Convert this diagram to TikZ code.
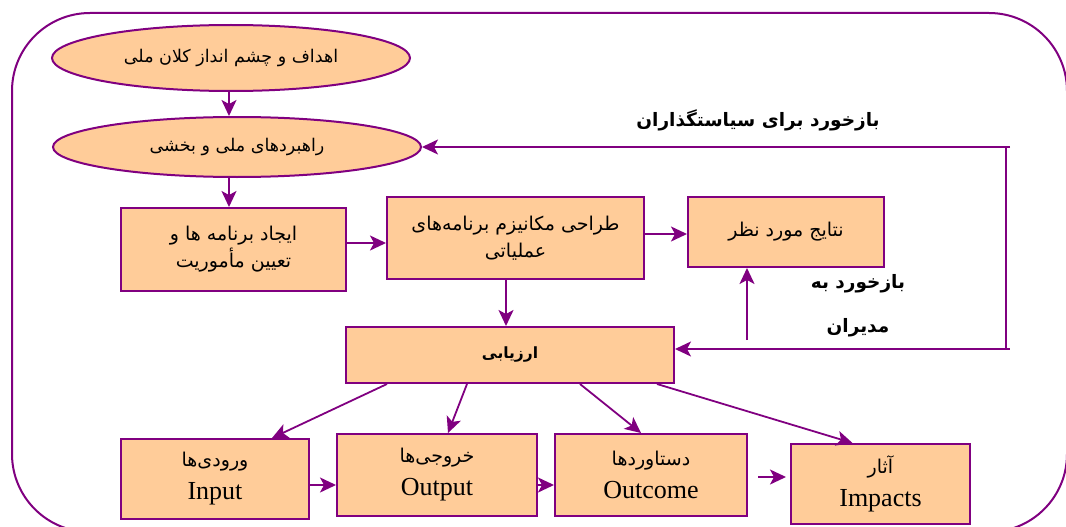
\documentclass[tikz,border=0pt]{standalone}
\usepackage{fontspec}
\setmainfont{Liberation Serif}
\newfontfamily\farsi[Script=Arabic]{DejaVu Sans}
\TeXXeTstate=1
\usetikzlibrary{shapes.geometric,arrows.meta}
\definecolor{mauve}{HTML}{800080}
\definecolor{peach}{HTML}{FFCC99}
\newcommand{\fatext}[1]{{\farsi\beginR #1\endR}}
\newcommand{\entext}[1]{{\rmfamily\fontsize{26}{28}\selectfont #1}}

\begin{document}
\begin{tikzpicture}[x=1pt,y=-1pt,
    every node/.style={font=\farsi\fontsize{19}{27}\selectfont},
    ellip/.style={ellipse, draw=mauve, fill=peach, line width=2pt, inner sep=0pt, font=\farsi\fontsize{17.5}{21}\selectfont},
    block/.style={rectangle, draw=mauve, fill=peach, line width=2pt, inner sep=0pt, align=center},
    link/.style={draw=mauve, line width=1.8pt, -{Stealth[length=16pt,width=15pt,inset=4pt]}},
    wire/.style={draw=mauve, line width=1.8pt},
    label/.style={font=\farsi\bfseries\fontsize{18.5}{22}\selectfont, align=center}]
    \useasboundingbox (0,0) rectangle (1066,527);
    \clip (0,0) rectangle (1066,527);
    \draw[mauve, line width=2pt, rounded corners=78pt] (12,13) rectangle (1067,532);

    % top: goals and strategies
    \node[ellip, minimum width=358pt, minimum height=66pt] (goals) at (231,58) {\fatext{اهداف و چشم انداز کلان ملی}};
    \node[ellip, minimum width=368pt, minimum height=60pt] (strat) at (237,147) {\fatext{راهبردهای ملی و بخشی}};

    % middle row
    \node[block, minimum width=225pt, minimum height=83pt] (create) at (233.5,249.5) {\fatext{ایجاد برنامه ها و}\\\fatext{تعیین مأموریت}};
    \node[block, minimum width=257pt, minimum height=82pt] (design) at (515.5,238) {\fatext{طراحی مکانیزم برنامه‌های}\\\fatext{عملیاتی}};
    \node[block, minimum width=196pt, minimum height=70pt] (result) at (786,232) {\fatext{نتایج مورد نظر}};
    \node[block, minimum width=328pt, minimum height=56pt, font=\farsi\bfseries\fontsize{15.5}{18}\selectfont] (eval) at (510,355) {\fatext{ارزیابی}};

    % bottom row
    \node[block, minimum width=188pt, minimum height=80pt] (input) at (215,479) {\fatext{ورودی‌ها}\\[6pt]\entext{Input}};
    \node[block, minimum width=200pt, minimum height=82pt] (output) at (437,475) {\fatext{خروجی‌ها}\\[6pt]\entext{Output}};
    \node[block, minimum width=192pt, minimum height=82pt] (outcome) at (651,475) {\fatext{دستاوردها}\\[6pt]\entext{Outcome}};
    \node[block, minimum width=179pt, minimum height=80pt] (impact) at (880.5,484) {\fatext{آثار}\\[6pt]\entext{Impacts}};

    % feedback labels
    \node[label] (fbPolicy) at (758,120) {\fatext{بازخورد برای سیاستگذاران}};
    \node[label] (fbManager) at (858,306) {\fatext{بازخورد به}\\[22pt]\fatext{مدیران}};

    \coordinate (col) at (229,0);
    \coordinate (fbTop) at (1006,147);
    \coordinate (fbBot) at (1006,349);
    \coordinate (mgr) at (747,340);
    \coordinate (gapL) at (758,477);
    \coordinate (gapR) at (786,477);

    \draw[link] (goals.south -| col) -- (strat.north -| col);
    \draw[link] (strat.south -| col) -- (create.north -| col);
    \draw[link] ([yshift=6.5pt]create.east) -- ([yshift=6.5pt]create.east -| design.west);
    \draw[link] ([yshift=4pt]design.east) -- ([yshift=4pt]design.east -| result.west);
    \draw[link] ([xshift=-9.5pt]design.south) -- ([xshift=-9.5pt]design.south |- eval.north);
    \draw[link] (mgr) -- (mgr |- result.south);

    \draw[link] ([xshift=-123pt]eval.south) -- ([xshift=57pt]input.north);
    \draw[link] ([xshift=-43pt]eval.south) -- ([xshift=11pt]output.north);
    \draw[link] ([xshift=70pt]eval.south) -- ([xshift=-10pt]outcome.north);
    \draw[link] ([xshift=147pt]eval.south) -- ([xshift=-28pt]impact.north);

    \draw[link] ([yshift=-6pt]input.east) -- ([yshift=-6pt]input.east -| output.west);
    \draw[link] ([yshift=-10pt]output.east) -- ([yshift=-10pt]output.east -| outcome.west);
    \draw[link] (gapL) -- (gapR);

    % feedback loop
    \draw[wire] ([xshift=4pt]fbTop) -- (fbTop) -- (fbBot) -- ([xshift=4pt]fbBot);
    \draw[link] (fbTop) -- (strat.east);
    \draw[link] (fbBot) -- (eval.east |- fbBot);
\end{tikzpicture}
\end{document}
